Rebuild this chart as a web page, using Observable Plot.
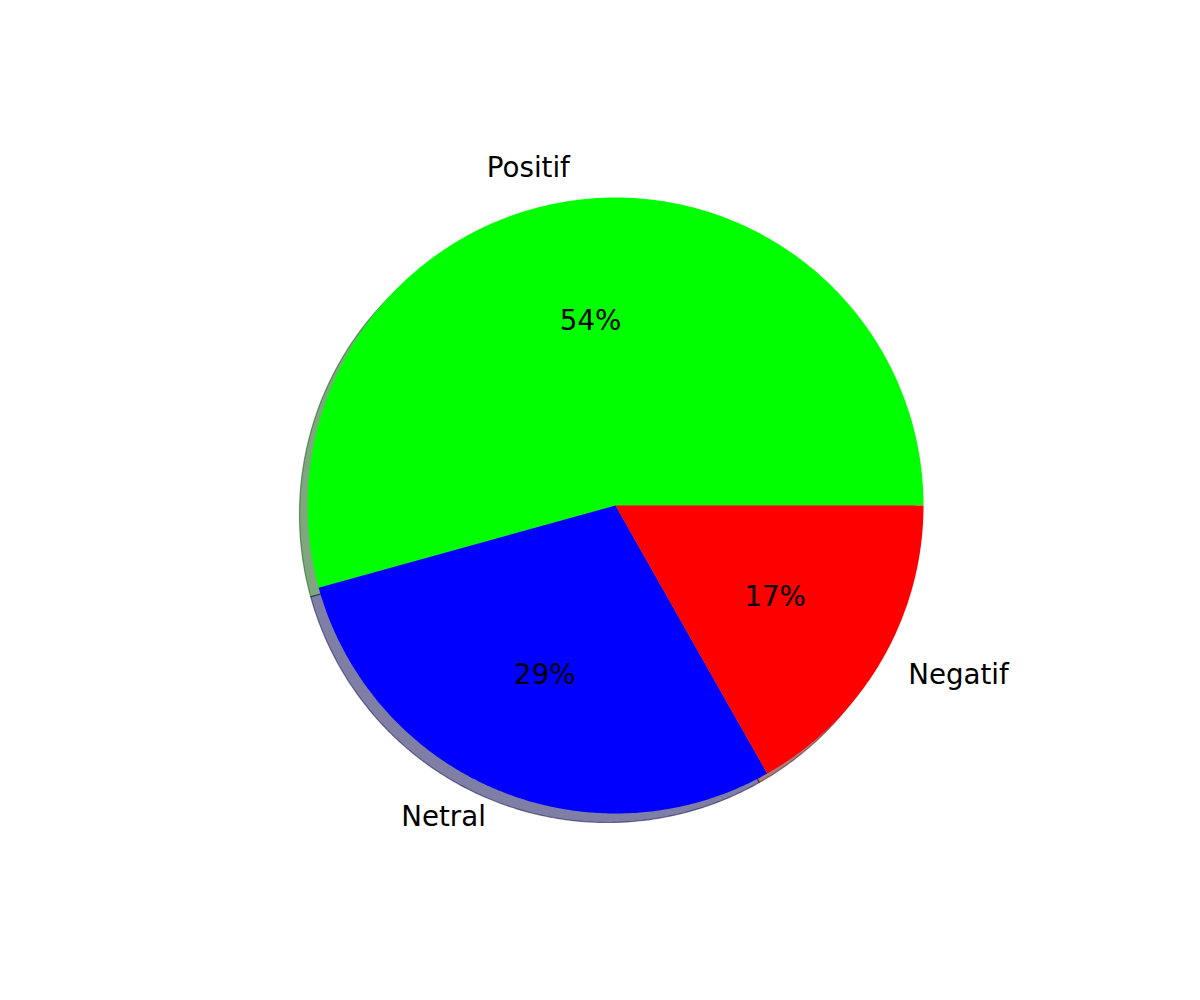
<!DOCTYPE html>
<html>
<head>
<meta charset="utf-8">
<script src="https://cdn.jsdelivr.net/npm/d3@7"></script>
<script src="https://cdn.jsdelivr.net/npm/@observablehq/plot@0.6"></script>
<style>
  html, body { margin: 0; padding: 0; background: #fff; }
  #chart svg { display: block; }
</style>
</head>
<body>
<div id="chart"></div>
<script>
// Sentiment shares (percent)
const labels = ["Positif", "Netral", "Negatif"];
const values = [54.3, 28.9, 16.8];
const colors = ["#00ff00", "#0000ff", "#ff0000"];
const shadowColors = ["#004d00", "#00004d", "#4d0000"];

// Layout of the figure (pixels)
const W = 1200, H = 1000;
const cx = 615, cy = 505, R = 308;

// Wedges run counter-clockwise from 3 o'clock
const total = d3.sum(values);
let acc = 0;
const slices = values.map((v, i) => {
  const a0 = acc / total * 360;
  acc += v;
  const a1 = acc / total * 360;
  return {label: labels[i], value: v, pct: v / total * 100, a0, a1, mid: (a0 + a1) / 2, i};
});

const rad = d => d * Math.PI / 180;

// Polygon outline for each wedge (center, arc, center) in unit-radius coordinates
const wedgePoints = slices.flatMap(s => {
  const pts = [{label: s.label, i: s.i, x: 0, y: 0}];
  const n = Math.max(2, Math.ceil((s.a1 - s.a0) / 0.5));
  for (let k = 0; k <= n; ++k) {
    const a = rad(s.a0 + (s.a1 - s.a0) * k / n);
    pts.push({label: s.label, i: s.i, x: Math.cos(a), y: Math.sin(a)});
  }
  pts.push({label: s.label, i: s.i, x: 0, y: 0});
  return pts;
});

const outerLabels = slices.map(s => {
  const a = rad(s.mid);
  const x = 1.1 * Math.cos(a), y = 1.1 * Math.sin(a);
  return {text: s.label, x, y, anchor: x > 0 ? "start" : "end"};
});
const pctLabels = slices.map(s => {
  const a = rad(s.mid);
  return {text: `${Math.round(s.pct)}%`, x: 0.6 * Math.cos(a), y: 0.6 * Math.sin(a)};
});

const font = "DejaVu Sans, sans-serif";
const fs = 27.7;

const chart = Plot.plot({
  width: W,
  height: H,
  margin: 0,
  style: {fontFamily: font, background: "#fff"},
  x: {domain: [-cx / R, (W - cx) / R], axis: null},
  y: {domain: [-(H - cy) / R, cy / R], axis: null},
  marks: [
    // drop shadow under the wedges
    Plot.line(wedgePoints, {
      x: "x", y: "y", z: "label",
      fill: d => shadowColors[d.i], stroke: d => shadowColors[d.i],
      fillOpacity: 0.5, strokeOpacity: 0.5, strokeWidth: 1.2,
      dx: -8, dy: 9
    }),
    // wedges
    Plot.line(wedgePoints, {
      x: "x", y: "y", z: "label",
      fill: d => colors[d.i], stroke: "none"
    }),
    Plot.text(outerLabels.filter(d => d.anchor === "end"), {
      x: "x", y: "y", text: "text", textAnchor: "end",
      fontSize: fs, fill: "black", dy: -1.5
    }),
    Plot.text(outerLabels.filter(d => d.anchor === "start"), {
      x: "x", y: "y", text: "text", textAnchor: "start",
      fontSize: fs, fill: "black", dy: -1.5
    }),
    Plot.text(pctLabels, {
      x: "x", y: "y", text: "text",
      fontSize: fs, fill: "black", dy: -1.5
    })
  ]
});

document.getElementById("chart").appendChild(chart);
</script>
</body>
</html>
